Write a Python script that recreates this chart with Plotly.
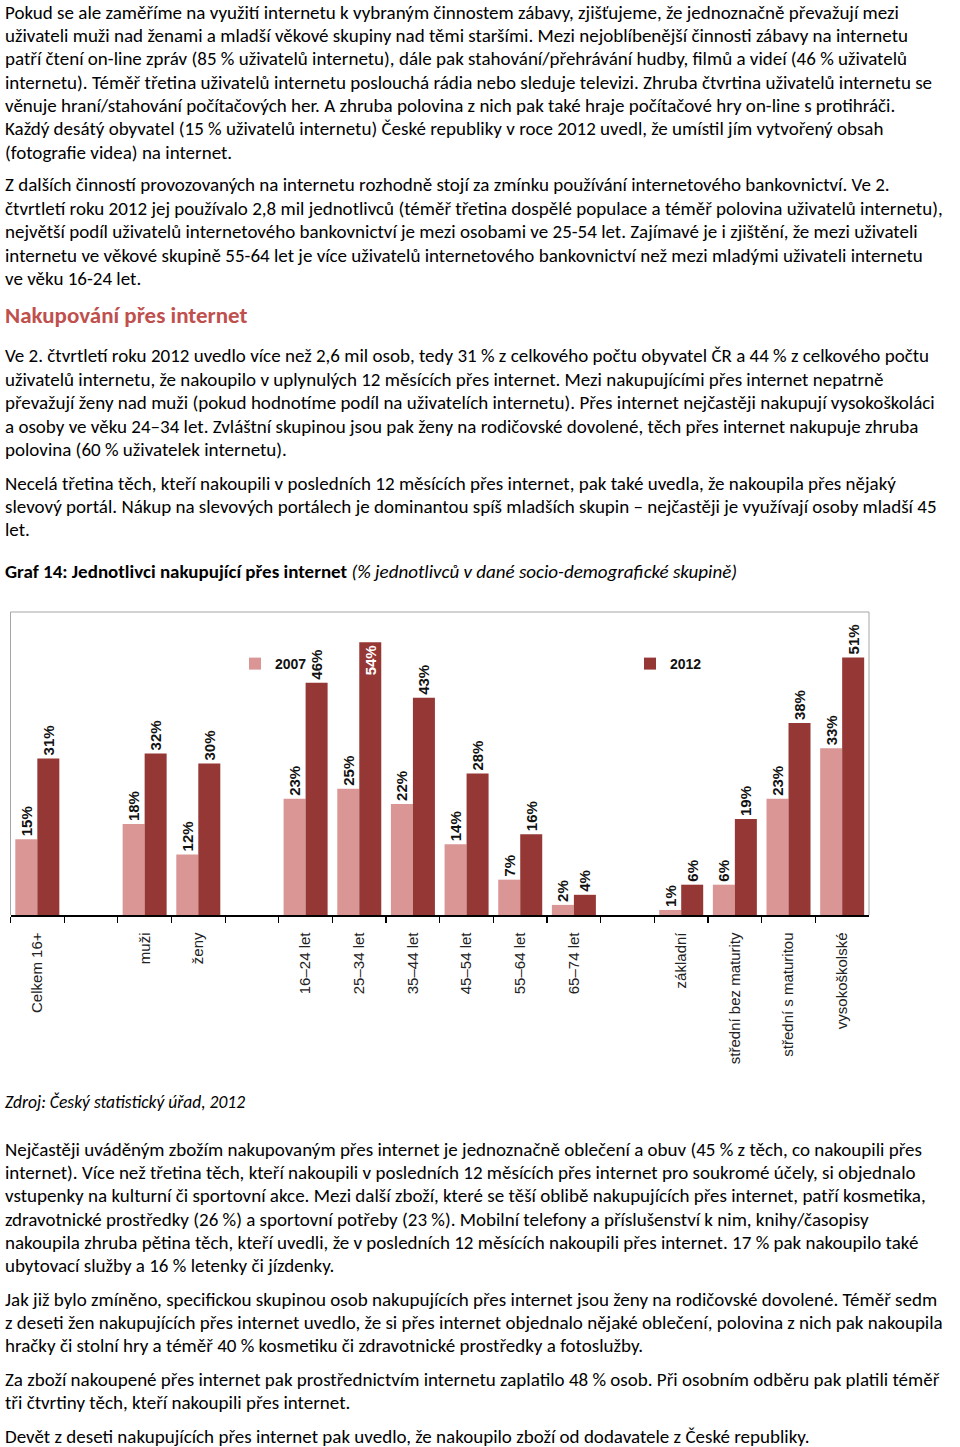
import plotly.graph_objects as go

W, H = 960, 1447

# ---------------- data ----------------
categories = ["Celkem 16+", "\u00a0", "muži", "ženy", "\u00a0\u00a0", "16–24 let", "25–34 let",
              "35–44 let", "45–54 let", "55–64 let", "65–74 let", "\u00a0\u00a0\u00a0",
              "základní", "střední bez maturity", "střední s maturitou", "vysokoškolské"]
v2007 = [15, None, 18, 12, None, 23, 25, 22, 14, 7, 2, None, 1, 6, 23, 33]
v2012 = [31, None, 32, 30, None, 46, 54, 43, 28, 16, 4, None, 6, 19, 38, 51]
series_names = ["2007", "2012"]

para1 = [
    "Pokud se ale zaměříme na využití internetu k vybraným činnostem zábavy, zjišťujeme, že jednoznačně převažují mezi",
    "uživateli muži nad ženami a mladší věkové skupiny nad těmi staršími. Mezi nejoblíbenější činnosti zábavy na internetu",
    "patří čtení on-line zpráv (85 % uživatelů internetu), dále pak stahování/přehrávání hudby, filmů a videí (46 % uživatelů",
    "internetu). Téměř třetina uživatelů internetu poslouchá rádia nebo sleduje televizi. Zhruba čtvrtina uživatelů internetu se",
    "věnuje hraní/stahování počítačových her. A zhruba polovina z nich pak také hraje počítačové hry on-line s protihráči.",
    "Každý desátý obyvatel (15 % uživatelů internetu) České republiky v roce 2012 uvedl, že umístil jím vytvořený obsah",
    "(fotografie videa) na internet.",
]
para2 = [
    "Z dalších činností provozovaných na internetu rozhodně stojí za zmínku používání internetového bankovnictví. Ve 2.",
    "čtvrtletí roku 2012 jej používalo 2,8 mil jednotlivců (téměř třetina dospělé populace a téměř polovina uživatelů internetu),",
    "největší podíl uživatelů internetového bankovnictví je mezi osobami ve 25-54 let. Zajímavé je i zjištění, že mezi uživateli",
    "internetu ve věkové skupině 55-64 let je více uživatelů internetového bankovnictví než mezi mladými uživateli internetu",
    "ve věku 16-24 let.",
]
heading = "Nakupování přes internet"
para3 = [
    "Ve 2. čtvrtletí roku 2012 uvedlo více než 2,6 mil osob, tedy 31 % z celkového počtu obyvatel ČR a 44 % z celkového počtu",
    "uživatelů internetu, že nakoupilo v uplynulých 12 měsících přes internet. Mezi nakupujícími přes internet nepatrně",
    "převažují ženy nad muži (pokud hodnotíme podíl na uživatelích internetu). Přes internet nejčastěji nakupují vysokoškoláci",
    "a osoby ve věku 24–34 let. Zvláštní skupinou jsou pak ženy na rodičovské dovolené, těch přes internet nakupuje zhruba",
    "polovina (60 % uživatelek internetu).",
]
para4 = [
    "Necelá třetina těch, kteří nakoupili v posledních 12 měsících přes internet, pak také uvedla, že nakoupila přes nějaký",
    "slevový portál. Nákup na slevových portálech je dominantou spíš mladších skupin – nejčastěji je využívají osoby mladší 45",
    "let.",
]
caption_bold = "Graf 14: Jednotlivci nakupující přes internet"
caption_italic = "(% jednotlivců v dané socio-demografické skupině)"
source = "Zdroj: Český statistický úřad, 2012"
para5 = [
    "Nejčastěji uváděným zbožím nakupovaným přes internet je jednoznačně oblečení a obuv (45 % z těch, co nakoupili přes",
    "internet). Více než třetina těch, kteří nakoupili v posledních 12 měsících přes internet pro soukromé účely, si objednalo",
    "vstupenky na kulturní či sportovní akce. Mezi další zboží, které se těší oblibě nakupujících přes internet, patří kosmetika,",
    "zdravotnické prostředky (26 %) a sportovní potřeby (23 %). Mobilní telefony a příslušenství k nim, knihy/časopisy",
    "nakoupila zhruba pětina těch, kteří uvedli, že v posledních 12 měsících nakoupili přes internet. 17 % pak nakoupilo také",
    "ubytovací služby a 16 % letenky či jízdenky.",
]
para6 = [
    "Jak již bylo zmíněno, specifickou skupinou osob nakupujících přes internet jsou ženy na rodičovské dovolené. Téměř sedm",
    "z deseti žen nakupujících přes internet uvedlo, že si přes internet objednalo nějaké oblečení, polovina z nich pak nakoupila",
    "hračky či stolní hry a téměř 40 % kosmetiku či zdravotnické prostředky a fotoslužby.",
]
para7 = [
    "Za zboží nakoupené přes internet pak prostřednictvím internetu zaplatilo 48 % osob. Při osobním odběru pak platili téměř",
    "tři čtvrtiny těch, kteří nakoupili přes internet.",
]
para8 = [
    "Devět z deseti nakupujících přes internet pak uvedlo, že nakoupilo zboží od dodavatele z České republiky.",
]

# ---------------- styles ----------------
BODY_FONT = "Carlito, Lato, 'Open Sans', sans-serif"
BODY_SIZE = 19
LINE = 23.35
C2007 = "#D99694"
C2012 = "#953735"
BAR_FONT = "'Liberation Sans Narrow', 'Arial Narrow', 'Liberation Sans', Arial, sans-serif"
AX_FONT = "'Liberation Sans', Arial, sans-serif"

def labels(vals):
    return ["" if v is None else f"{v}%" for v in vals]

def positions(vals):
    return ["inside" if (v is not None and v > 52) else "outside" for v in vals]

fig = go.Figure()
legends = ["legend", "legend2"]
for (name, vals, col), lg in zip([(series_names[0], v2007, C2007), (series_names[1], v2012, C2012)], legends):
    fig.add_trace(go.Bar(
        x=categories, y=vals, name=name, legend=lg, marker=dict(color=col, line=dict(width=0)),
        text=labels(vals), textposition=positions(vals), textangle=-90,
        insidetextanchor="end",
        textfont=dict(family=BAR_FONT, size=15, color="#111", weight="bold"),
        outsidetextfont=dict(family=BAR_FONT, size=15, color="#111", weight="bold"),
        insidetextfont=dict(family=BAR_FONT, size=15, color="white", weight="bold"),
        constraintext="none", cliponaxis=False, hoverinfo="skip",
    ))

x0p, x1p = 10.5 / W, 869 / W
y_top, y_base = 612, 915
legend_style = dict(orientation="h", xanchor="left", y=1 - 664 / H, yanchor="middle",
                    itemwidth=30, bgcolor="rgba(0,0,0,0)",
                    font=dict(family=BAR_FONT, size=14, color="#111", weight="bold"))
fig.update_layout(
    width=W, height=H, margin=dict(l=0, r=0, t=0, b=0, pad=0),
    paper_bgcolor="white", plot_bgcolor="white",
    barmode="group", bargap=0.18, bargroupgap=0,
    xaxis=dict(domain=[x0p, x1p], type="category", categoryorder="array", categoryarray=categories,
               showline=True, linecolor="black", linewidth=1.5,
               ticks="outside", tickson="boundaries", ticklen=6, tickcolor="black", tickwidth=1.2,
               tickangle=-90, ticklabelstandoff=10,
               tickfont=dict(family=AX_FONT, size=15, color="#222"),
               showgrid=False, zeroline=False, fixedrange=True),
    yaxis=dict(domain=[(H - y_base) / H, (H - y_top) / H], range=[0, 60], visible=False,
               showgrid=False, zeroline=False, fixedrange=True),
    showlegend=True,
    legend=dict(x=235 / W, **legend_style),
    legend2=dict(x=630 / W, **legend_style),
)

# plot-area frame (top, left, right)
frame = dict(type="line", xref="x domain", yref="y domain", line=dict(color="#A6A6A6", width=1), layer="below")
fig.add_shape(**frame, x0=0, x1=1, y0=1, y1=1)
fig.add_shape(**frame, x0=0, x1=0, y0=0, y1=1)
fig.add_shape(**frame, x0=1, x1=1, y0=0, y1=1)

# ---------------- page text ----------------
def add_line(text, yc, size=BODY_SIZE, color="black", family=BODY_FONT):
    fig.add_annotation(xref="paper", yref="paper", x=3 / W, y=1 - yc / H,
                       xanchor="left", yanchor="middle", showarrow=False, text=text,
                       align="left", font=dict(family=family, size=size, color=color))

def add_para(lines, y0):
    for i, t in enumerate(lines):
        add_line(t, y0 + i * LINE)

add_para(para1, 12)
add_para(para2, 185)
add_line("<b>" + heading + "</b>", 315, size=23, color="#C0504D")
add_para(para3, 356)
add_para(para4, 483)
add_line("<b>" + caption_bold + "</b> <i>" + caption_italic + "</i>", 571)
add_line("<i>" + source + "</i>", 1102, size=17.5)
add_para(para5, 1149)
add_para(para6, 1299)
add_para(para7, 1379)
add_para(para8, 1436)

fig.write_html("out.html", config={"displayModeBar": False, "staticPlot": True},
               post_script="document.body.style.margin='0px';document.body.style.overflow='hidden';")
